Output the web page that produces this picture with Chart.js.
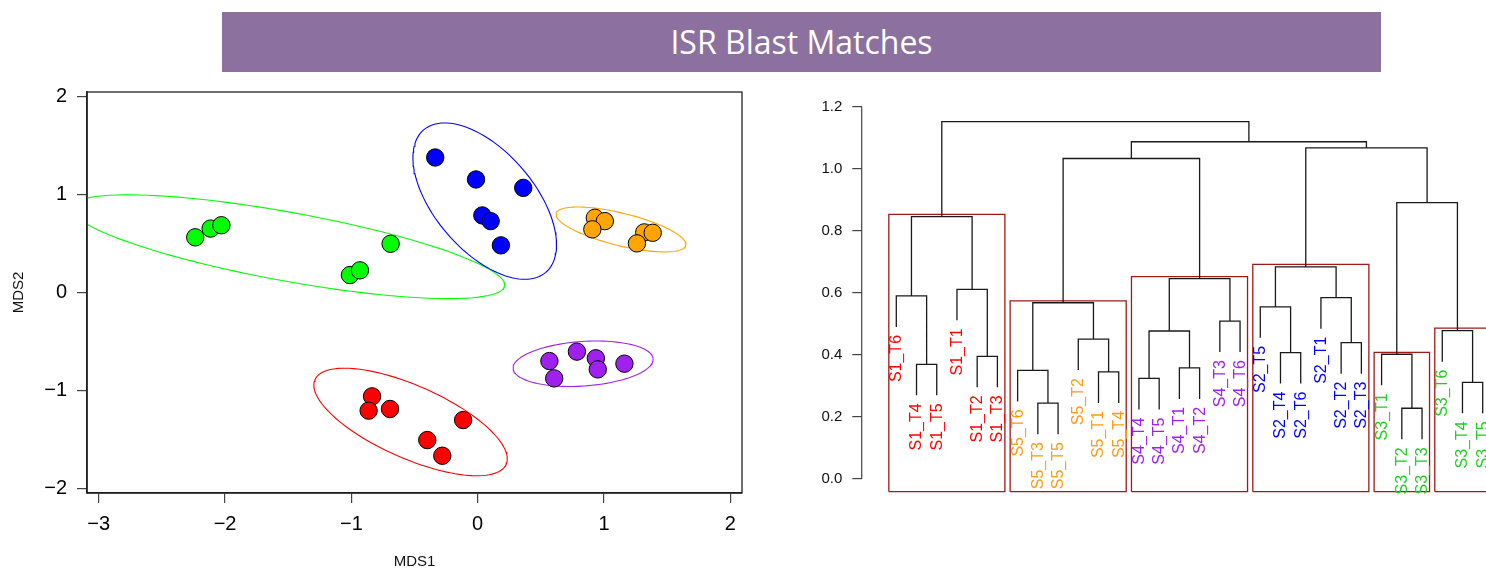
<!DOCTYPE html>
<html>
<head>
<meta charset="utf-8">
<script src="https://cdn.jsdelivr.net/npm/chart.js@4/dist/chart.umd.min.js"></script>
<style>
  html, body { margin: 0; padding: 0; background: #fff; width: 1486px; height: 571px; overflow: hidden; }
  #banner { position: absolute; left: 222px; top: 12px; width: 1159px; height: 60px; background: #8C70A0;
            color: #fff; font-family: "Open Sans", sans-serif; font-size: 32px; line-height: 60px; text-align: center; }
  canvas { position: absolute; }
  #mds { left: 0px; top: 80px; }
  #dendro { left: 770px; top: 80px; }
</style>
</head>
<body>
<div id="banner">ISR Blast Matches</div>
<canvas id="mds" width="760" height="491"></canvas>
<canvas id="dendro" width="716" height="491"></canvas>
<script>
// ---------------- MDS scatter data ----------------
const groupNames  = ['S1', 'S2', 'S3', 'S4', 'S5'];
const groupColors = ['#FF0000', '#0000FF', '#00FF00', '#A020F0', '#FFA500'];
const s1X = [-0.836, -0.863, -0.694, -0.115, -0.399, -0.280];
const s1Y = [-1.061, -1.207, -1.190, -1.303, -1.507, -1.667];
const s2X = [-0.336, -0.013, 0.361, 0.037, 0.103, 0.184];
const s2Y = [1.375, 1.151, 1.065, 0.784, 0.726, 0.479];
const s3X = [-2.236, -2.114, -2.029, -0.689, -1.011, -0.932];
const s3Y = [0.561, 0.650, 0.684, 0.495, 0.176, 0.224];
const s4X = [0.568, 0.786, 0.936, 0.951, 1.162, 0.606];
const s4Y = [-0.701, -0.605, -0.673, -0.786, -0.728, -0.878];
const s5X = [0.928, 1.007, 0.908, 1.319, 1.386, 1.261];
const s5Y = [0.760, 0.726, 0.642, 0.611, 0.607, 0.499];
// ellipse semi-axis vectors (data units), centred on each group's centroid
const ellMajor = [[0.7569, -0.4318], [0.4838, -0.7261], [1.7158, -0.4012], [0.5541, 0.0491], [0.5135, -0.1628]];
const ellMinor = [[-0.1164, -0.3381], [-0.2985, -0.3299], [-0.0489, -0.3452], [0.0121, -0.2266], [-0.0309, -0.1612]];
const mdsXTicks = [-3, -2, -1, 0, 1, 2];
const mdsYTicks = [-2, -1, 0, 1, 2];

// ---------------- Dendrogram data ----------------
const leafLabels = ['S1_T6','S1_T4','S1_T5','S1_T1','S1_T2','S1_T3',
                    'S5_T6','S5_T3','S5_T5','S5_T2','S5_T1','S5_T4',
                    'S4_T4','S4_T5','S4_T1','S4_T2','S4_T3','S4_T6',
                    'S2_T5','S2_T4','S2_T6','S2_T1','S2_T2','S2_T3',
                    'S3_T1','S3_T2','S3_T3','S3_T6','S3_T4','S3_T5'];
const labelGroupColors = { S1: '#FF0000', S2: '#0000FF', S3: '#1FCF1F', S4: '#A020F0', S5: '#FF9A14' };
const mergeA = [-26,-8,-29,-13,-11,-7,-15,-2,-5,-25,-20,-23,-10,4,-28,-17,-19,6,-22,-1,-4,14,17,20,10,18,23,26,24];
const mergeB = [-27,-9,-30,-14,-12,2,-16,-3,-6,1,-21,-24,5,7,3,-18,11,13,12,8,9,16,19,21,15,22,25,27,28];
const mergeHeight = [0.228,0.2445,0.3116,0.324,0.345,0.350,0.358,0.3697,0.3954,0.402,0.4075,0.4394,0.451,0.477,0.478,
                     0.509,0.555,0.568,0.5845,0.590,0.6114,0.646,0.684,0.8455,0.8906,1.033,1.067,1.087,1.1517];
const leafHang = 0.1;
const rectFirst = [1, 7, 13, 19, 25, 28];
const rectLast  = [6, 12, 18, 24, 27, 30];
const rectTop   = [0.853, 0.574, 0.652, 0.692, 0.408, 0.486];
const dendroYTicks = [0, 0.2, 0.4, 0.6, 0.8, 1.0, 1.2];

// ---------------- build MDS datasets ----------------
const groupX = [s1X, s2X, s3X, s4X, s5X];
const groupY = [s1Y, s2Y, s3Y, s4Y, s5Y];
const pointSets = groupNames.map((g, i) => ({
  label: g,
  data: groupX[i].map((x, j) => ({ x: x, y: groupY[i][j] })),
  backgroundColor: groupColors[i],
  borderColor: '#000',
  borderWidth: 1,
  pointRadius: 8.7,
  pointStyle: 'circle',
  showLine: false,
  order: 0
}));
const ellipseSets = groupNames.map((g, i) => {
  const cx = groupX[i].reduce((a, b) => a + b, 0) / groupX[i].length;
  const cy = groupY[i].reduce((a, b) => a + b, 0) / groupY[i].length;
  const pts = [];
  for (let k = 0; k <= 120; k++) {
    const t = 2 * Math.PI * k / 120;
    pts.push({ x: cx + ellMajor[i][0] * Math.cos(t) + ellMinor[i][0] * Math.sin(t),
               y: cy + ellMajor[i][1] * Math.cos(t) + ellMinor[i][1] * Math.sin(t) });
  }
  return { label: g + ' ellipse', data: pts, showLine: true, borderColor: groupColors[i], borderWidth: 1.1,
           pointRadius: 0, fill: false, tension: 0, order: 1 };
});

const fmtMinus = v => (v < 0 ? '\u2212' + Math.abs(v) : String(v));
const noOverflow = s => { s.paddingTop = 0; s.paddingBottom = 0; s.paddingLeft = 0; s.paddingRight = 0; };
const boxPlugin = {
  id: 'box',
  afterDraw(chart) {
    const { ctx, chartArea: a } = chart;
    ctx.save();
    ctx.strokeStyle = '#111';
    ctx.lineWidth = 1.2;
    ctx.strokeRect(a.left, a.top, a.right - a.left, a.bottom - a.top);
    ctx.restore();
  }
};

new Chart(document.getElementById('mds'), {
  type: 'scatter',
  data: { datasets: [...pointSets, ...ellipseSets] },
  options: {
    responsive: false, animation: false, events: [],
    layout: { padding: { left: 0, top: 12, right: 18, bottom: 0 } },
    plugins: { legend: { display: false }, tooltip: { enabled: false } },
    scales: {
      x: {
        type: 'linear', min: -3.093, max: 2.093,
        afterBuildTicks: s => { s.ticks = mdsXTicks.map(v => ({ value: v })); },
        afterFit: s => { s.height = 78; noOverflow(s); },
        grid: { drawOnChartArea: false, drawTicks: true, tickLength: 10, color: '#444', lineWidth: 1.2 },
        border: { display: true, color: '#333', width: 1.6 },
        ticks: { font: { family: 'Liberation Sans', size: 20 }, color: '#000', padding: 9, maxRotation: 0, autoSkip: false, callback: fmtMinus },
        title: { display: true, text: 'MDS1', font: { family: 'Liberation Sans', size: 15 }, color: '#111', padding: { top: 0, bottom: 0 } }
      },
      y: {
        type: 'linear', min: -2.047, max: 2.043,
        afterBuildTicks: s => { s.ticks = mdsYTicks.map(v => ({ value: v })); },
        afterFit: s => { s.width = 87; noOverflow(s); },
        grid: { drawOnChartArea: false, drawTicks: true, tickLength: 10, color: '#444', lineWidth: 1.2 },
        border: { display: true, color: '#333', width: 1.6 },
        ticks: { font: { family: 'Liberation Sans', size: 20 }, color: '#000', padding: 10, autoSkip: false, callback: fmtMinus },
        title: { display: true, text: 'MDS2', font: { family: 'Liberation Sans', size: 15 }, color: '#111', padding: { top: 10, bottom: 0 } }
      }
    }
  },
  plugins: [boxPlugin]
});

// ---------------- build dendrogram ----------------
const nodeX = [], nodeH = [];
const childPos = ref => (ref < 0 ? { x: -ref, h: null } : { x: nodeX[ref - 1], h: nodeH[ref - 1] });
const treePts = [];
for (let k = 0; k < mergeHeight.length; k++) {
  const a = childPos(mergeA[k]), b = childPos(mergeB[k]);
  const h = mergeHeight[k];
  nodeX.push((a.x + b.x) / 2);
  nodeH.push(h);
  const ha = a.h === null ? h - leafHang : a.h;
  const hb = b.h === null ? h - leafHang : b.h;
  treePts.push({ x: a.x, y: ha }, { x: a.x, y: h }, { x: b.x, y: h }, { x: b.x, y: hb }, { x: a.x, y: null });
}
// leaf end heights (for labels)
const leafEnd = new Array(leafLabels.length).fill(0);
for (let k = 0; k < mergeHeight.length; k++) {
  if (mergeA[k] < 0) leafEnd[-mergeA[k] - 1] = mergeHeight[k] - leafHang;
  if (mergeB[k] < 0) leafEnd[-mergeB[k] - 1] = mergeHeight[k] - leafHang;
}
const dendroYMin = -0.041;
const rectPts = [];
rectFirst.forEach((f, i) => {
  const x0 = f - 0.37, x1 = rectLast[i] + 0.37;
  rectPts.push({ x: x0, y: dendroYMin }, { x: x0, y: rectTop[i] }, { x: x1, y: rectTop[i] }, { x: x1, y: dendroYMin },
               { x: x0, y: dendroYMin }, { x: x0, y: null });
});

const dendroPlugin = {
  id: 'dendroExtras',
  afterDraw(chart) {
    const { ctx, chartArea: a } = chart;
    const xs = chart.scales.x, ys = chart.scales.y;
    ctx.save();
    // y axis line from first to last tick
    ctx.strokeStyle = '#444';
    ctx.lineWidth = 1.2;
    ctx.beginPath();
    ctx.moveTo(a.left, ys.getPixelForValue(dendroYTicks[0]));
    ctx.lineTo(a.left, ys.getPixelForValue(dendroYTicks[dendroYTicks.length - 1]));
    ctx.stroke();
    // leaf labels
    ctx.font = '16px "Liberation Sans"';
    ctx.textAlign = 'right';
    ctx.textBaseline = 'middle';
    leafLabels.forEach((lab, i) => {
      const px = xs.getPixelForValue(i + 1);
      const py = ys.getPixelForValue(leafEnd[i]);
      ctx.save();
      ctx.translate(px + 0.5, py + 8);
      ctx.rotate(-Math.PI / 2);
      ctx.fillStyle = labelGroupColors[lab.split('_')[0]];
      ctx.fillText(lab, 0, 0);
      ctx.restore();
    });
    ctx.restore();
  }
};

new Chart(document.getElementById('dendro'), {
  type: 'scatter',
  data: {
    datasets: [
      { label: 'tree', data: treePts, showLine: true, spanGaps: false, borderColor: '#1a1a1a', borderWidth: 1.3,
        pointRadius: 0, fill: false, tension: 0, clip: false },
      { label: 'clusters', data: rectPts, showLine: true, spanGaps: false, borderColor: '#A31818', borderWidth: 1.3,
        pointRadius: 0, fill: false, tension: 0, clip: false }
    ]
  },
  options: {
    responsive: false, animation: false, events: [],
    layout: { padding: { left: 0, top: 20.5, right: 0, bottom: 79.3 } },
    plugins: { legend: { display: false }, tooltip: { enabled: false } },
    scales: {
      x: { type: 'linear', display: false, min: -0.711, max: 30.163 },
      y: {
        type: 'linear', min: dendroYMin, max: 1.22,
        afterBuildTicks: s => { s.ticks = dendroYTicks.map(v => ({ value: v })); },
        afterFit: s => { s.width = 91.7; noOverflow(s); },
        grid: { drawOnChartArea: false, drawTicks: true, tickLength: 9.4, color: '#444', lineWidth: 1.2 },
        border: { display: false },
        ticks: { font: { family: 'Liberation Sans', size: 15 }, color: '#111', padding: 10, autoSkip: false,
                 callback: v => Number(v).toFixed(1) }
      }
    }
  },
  plugins: [dendroPlugin]
});
</script>
</body>
</html>
